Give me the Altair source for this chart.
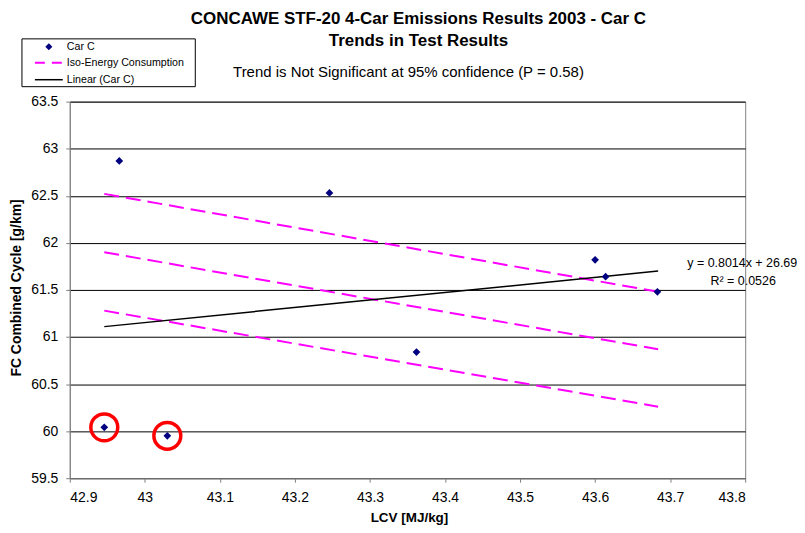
import altair as alt
import pandas as pd

# ---- data ----
lcv = [42.966, 43.246, 43.362, 43.600, 43.614, 43.683, 42.946, 43.030]
fc = [62.87, 62.53, 60.84, 61.82, 61.64, 61.48, 60.04, 59.95]
circled_lcv = [42.946, 43.030]
circled_fc = [60.04, 59.95]

iso_x = [42.946, 43.684]
iso_top = [62.52, 61.48]
iso_mid = [61.90, 60.87]
iso_bot = [61.28, 60.26]

trend_x = [42.946, 43.684]
trend_y = [61.11, 61.70]

x_ticks = [42.9, 43.0, 43.1, 43.2, 43.3, 43.4, 43.5, 43.6, 43.7, 43.8]
y_ticks = [59.5, 60.0, 60.5, 61.0, 61.5, 62.0, 62.5, 63.0, 63.5]

FONT = "Liberation Sans"
W, H = 678, 378

pts = pd.DataFrame({"lcv": lcv, "fc": fc})
circ = pd.DataFrame({"lcv": circled_lcv, "fc": circled_fc})
iso_rows = []
for name, ys in [("top", iso_top), ("mid", iso_mid), ("bot", iso_bot)]:
    for xv, yv in zip(iso_x, ys):
        iso_rows.append({"line": name, "lcv": xv, "fc": yv})
iso = pd.DataFrame(iso_rows)
trend = pd.DataFrame({"lcv": trend_x, "fc": trend_y})

xs = alt.Scale(domain=[42.9, 43.8], nice=False, zero=False)
ys = alt.Scale(domain=[59.5, 63.5], nice=False, zero=False)

X = alt.X("lcv:Q", scale=xs, title=None,
          axis=alt.Axis(values=x_ticks, format="~f", grid=False, tickSize=4,
                        labelPadding=8))
Y = alt.Y("fc:Q", scale=ys, title=None,
          axis=alt.Axis(values=y_ticks, format="~f", grid=True, gridColor="#000000",
                        gridOpacity=1, gridWidth=1, tickSize=4, labelPadding=8))

iso_layer = alt.Chart(iso).mark_line(color="#FF00FF", strokeWidth=2, strokeDash=[15, 7]).encode(
    x=X, y=Y, detail="line:N")
trend_layer = alt.Chart(trend).mark_line(color="#000000", strokeWidth=1.5).encode(x=X, y=Y)
pts_layer = alt.Chart(pts).mark_point(shape="diamond", filled=True, color="#000080",
                                      size=60, opacity=1).encode(x=X, y=Y)
circ_layer = alt.Chart(circ).mark_point(shape="circle", filled=False, color="#FF0000",
                                        size=729, strokeWidth=3.5, opacity=1).encode(x=X, y=Y)

def txt(s, x, y, size=13, weight="normal", align="center", angle=0):
    return alt.Chart(pd.DataFrame({"t": [s]})).mark_text(
        font=FONT, fontSize=size, fontWeight=weight, align=align, baseline="middle",
        color="#000000", angle=angle).encode(text="t:N", x=alt.value(x), y=alt.value(y))

titles = [
    txt("CONCAWE STF-20 4-Car Emissions Results 2003 - Car C", 350, -83, 17, "bold"),
    txt("Trends in Test Results", 350, -61, 17, "bold"),
    txt("Trend is Not Significant at 95% confidence (P = 0.58)", 340, -30, 15),
    txt("y = 0.8014x + 26.69", 675, 162, 12.5),
    txt("R² = 0.0526", 676, 180, 12.5),
    txt("LCV [MJ/kg]", 341, 418, 13.5, "bold"),
    txt("FC Combined Cycle [g/km]", -53, 187, 14, "bold", angle=270),
]

# legend box
legend_box = alt.Chart(pd.DataFrame({"a": [0]})).mark_rect(
    fill="#FFFFFF", stroke="#000000", strokeWidth=1).encode(
    x=alt.value(-48), x2=alt.value(126), y=alt.value(-63), y2=alt.value(-15))
leg_diamond = alt.Chart(pd.DataFrame({"a": [0]})).mark_point(
    shape="diamond", filled=True, color="#000080", size=50, opacity=1).encode(
    x=alt.value(-21), y=alt.value(-55))
leg_dash = alt.Chart(pd.DataFrame({"a": [0]})).mark_rule(
    color="#FF00FF", strokeWidth=2, strokeDash=[10, 7]).encode(
    x=alt.value(-35), x2=alt.value(-5), y=alt.value(-39))
leg_line = alt.Chart(pd.DataFrame({"a": [0]})).mark_rule(
    color="#000000", strokeWidth=1.5).encode(
    x=alt.value(-35), x2=alt.value(-7), y=alt.value(-22))
leg_texts = [
    txt("Car C", -3, -55, 10.7, align="left"),
    txt("Iso-Energy Consumption", -3, -39, 10.7, align="left"),
    txt("Linear (Car C)", -3, -22, 10.7, align="left"),
]

chart = alt.layer(
    iso_layer, trend_layer, pts_layer, circ_layer,
    legend_box, leg_diamond, leg_dash, leg_line, *leg_texts, *titles
).properties(
    width=W, height=H,
    autosize=alt.AutoSizeParams(type="none"),
    padding={"left": 62, "top": 93, "right": 52, "bottom": 46},
).configure_view(stroke="#808080", strokeWidth=1).configure_axis(
    labelFont=FONT, labelFontSize=14, labelColor="#000000",
    domainColor="#808080", tickColor="#808080",
)

chart.save("out.html", embed_options={"renderer": "svg", "actions": False})
